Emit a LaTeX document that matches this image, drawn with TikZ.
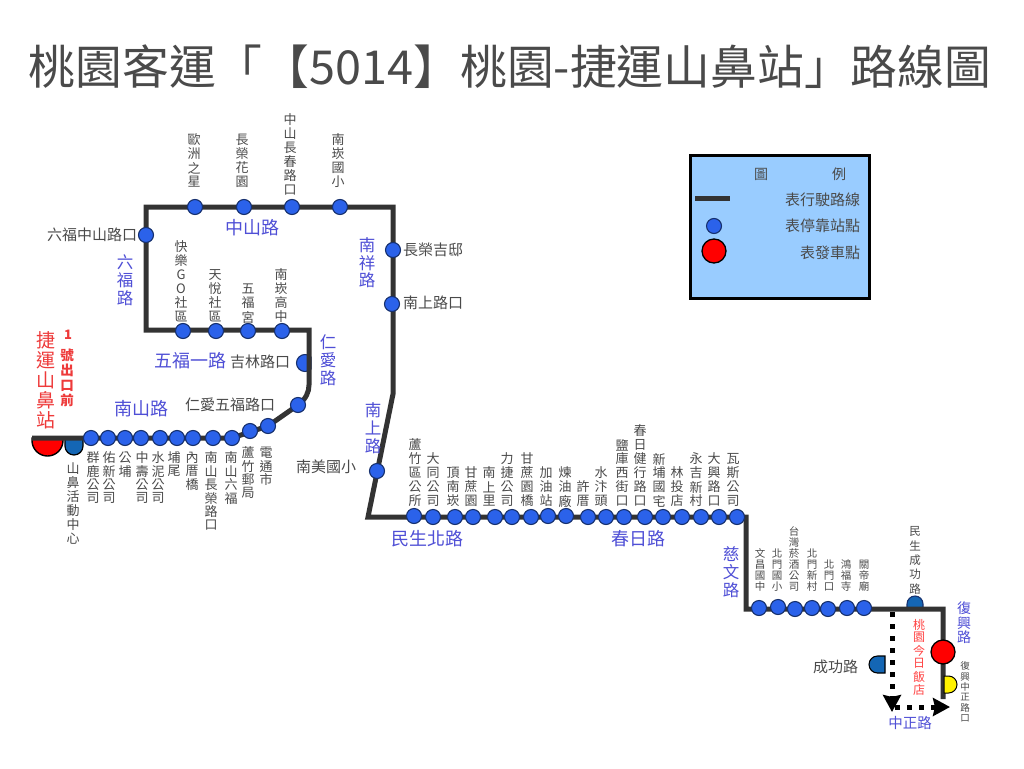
\documentclass[tikz,border=0pt]{standalone}
\usepackage{fontspec}
\usetikzlibrary{arrows.meta}
\setmainfont{Noto Sans CJK TC}
\newdimen\vtpitch
\def\vtloop#1{\ifx#1\relax\else\hbox to 1.1em{\hss\vbox to\vtpitch{\vss\hbox{#1}\vss}\hss}\expandafter\vtloop\fi}
\newcommand\vt[2]{\vtpitch=#1pt\vbox{\offinterlineskip\expandafter\vtloop#2\relax}}
\newcommand\fs[1]{\fontsize{#1pt}{#1pt}\selectfont}
\definecolor{routec}{HTML}{333333}
\definecolor{stopc}{HTML}{2B62EA}
\definecolor{stope}{HTML}{16306E}
\definecolor{roadc}{HTML}{4F4FD6}
\definecolor{textc}{HTML}{4A4A4A}
\definecolor{domec}{HTML}{1466B4}
\definecolor{redc}{HTML}{EE3A3A}
\definecolor{legc}{HTML}{99CCFF}
\tikzset{
 route/.style={draw=routec,line width=5pt,line join=miter},
 stopn/.style={circle,fill=stopc,draw=stope,line width=1.1pt,minimum size=15pt,inner sep=0pt},
 startn/.style={circle,fill=red,draw=black,line width=1.3pt,minimum size=24pt,inner sep=0pt},
 lab/.style={inner sep=0pt,outer sep=0pt,text=textc,font=\fs{15}},
 vlab/.style={inner sep=0pt,outer sep=0pt,text=textc,font=\fs{13}},
 road/.style={inner sep=0pt,outer sep=0pt,text=roadc,font=\fs{18}},
 vroad/.style={road,font=\fs{16.5}},
 redl/.style={inner sep=0pt,outer sep=0pt,text=redc},
 dots/.style={draw=black,line width=5pt,dash pattern=on 5pt off 7pt,-{Stealth[length=17pt,width=18pt,inset=2pt]}}
}
\begin{document}
\begin{tikzpicture}[x=1pt,y=-1pt]
\useasboundingbox (0,0) rectangle (1024,768);
\fill[white] (0,0) rectangle (1024,768);
\node[inner sep=0pt,text=textc,font=\fs{46.8}] (title) at (510,67) {桃園客運「【5014】桃園-捷運山鼻站」路線圖};
% half domes under the route
\fill[red,draw=black,line width=1.4pt] (32,438) -- (32,440.5) arc[start angle=180,end angle=0,radius=15.5] -- (63,438) -- cycle;
\path (47,445) node[inner sep=0pt] (domeA) {};
\fill[domec,draw=black,line width=1.2pt] (65,438) -- (65,446) arc[start angle=180,end angle=0,radius=9] -- (83,438) -- cycle;
\path (74,446) node[inner sep=0pt] (domeB) {};
\fill[domec,draw=stope,line width=1.1pt] (907,609) -- (907,604) arc[start angle=180,end angle=360,radius=8] -- (923,609) -- cycle;
\path (915,604) node[inner sep=0pt] (domeC) {};
\fill[stopc,draw=stope,line width=1.1pt] (311,357) arc[start angle=-45,end angle=-315,radius=8.5] -- cycle;
\path (305,363) node[inner sep=0pt] (domeD) {};
% route corners
\coordinate (a0) at (32,438);
\coordinate (a1) at (232,438);
\coordinate (a2) at (268,426);
\coordinate (a3) at (298,405);
\coordinate (a4) at (309,385);
\coordinate (a5) at (309,330);
\coordinate (a6) at (146,330);
\coordinate (a7) at (146,207);
\coordinate (a8) at (393,207);
\coordinate (a9) at (393,394);
\coordinate (a10) at (368,517);
\coordinate (a11) at (746,517);
\coordinate (a12) at (746,609);
\coordinate (a13) at (943,609);
\coordinate (a14) at (943,699);
\draw[route] (a0) -- (a1) -- (a2) -- (a3) .. controls (306,399) and (309,392) .. (a4) -- (a5) -- (a6) -- (a7) -- (a8) -- (a9) -- (a10) -- (a11) -- (a12) -- (a13) -- (a14);
% stops
\foreach \n/\x/\y in {s1/91/438,s2/108/438,s3/125/438,s4/141/438,s5/160/438,s6/177/438,s7/193/438,s8/213/438,s9/232/438,s10/250/431,s11/268/426,s12/298/405,
 t1/183/331,t2/216/331,t3/248/331,t4/282/331,u1/146/235,v1/195/207,v2/244/207,v3/292/207,v4/340/207,w1/393/250,w2/392/304,w3/377/471,
 m1/414/516,m2/433/517,m3/455/517,m4/473/517,m5/495/517,m6/512/517,m7/531/517,m8/548/516,m9/566/516,m10/588/517,m11/606/517,m12/624/517,m13/645/517,m14/663/517,m15/682/517,m16/701/517,m17/719/517,m18/737/517,
 n1/759/608,n2/778/607,n3/795/609,n4/812/608,n5/828/609,n6/847/608,n7/864/608}
 \node[stopn] (\n) at (\x,\y) {};
\node[startn] (start) at (943,652) {};
\fill[yellow,draw=black,line width=1pt] (944,676) -- (948.5,676) arc[start angle=-90,end angle=90,radius=8.5] -- (944,693) -- cycle;
\path (950,685) node[inner sep=0pt] (domeE) {};
\fill[domec,draw=black,line width=1.1pt] (885,656) -- (877.5,656) arc[start angle=270,end angle=90,radius=8.5] -- (885,673) -- cycle;
\path (877,664) node[inner sep=0pt] (domeF) {};
% dotted diversion
\coordinate (d0) at (892,612);
\coordinate (d1) at (892,712);
\coordinate (d2) at (895,707);
\coordinate (d3) at (950,707);
\draw[dots] (d0) -- (d1);
\draw[dots] (d2) -- (d3);
% vertical labels, below the route
\foreach \n/\x/\y/\t in {b1/93/451/群鹿公司,b2/109/451/佑新公司,b3/125/451/公埔,b4/142/451/中壽公司,b5/158/451/水泥公司,b6/174/451/埔尾,b7/192/451/內厝橋,b8/211/451/南山長榮路口,b9/231/451/南山六福,b10/248/446/蘆竹郵局,b11/266/446/電通市}
 \node[vlab,anchor=north] (\n) at (\x,\y) {\vt{13.5}{\t}};
\node[vlab,anchor=north] (b0) at (73,462) {\vt{14}{山鼻活動中心}};
% vertical labels, above the route
\foreach \n/\x/\y/\t in {c1/194/189/歐洲之星,c2/242/189/長榮花園,c3/290/197/中山長春路口,c4/338/189/南崁國小,
 c5/181/324/快樂GO社區,c6/215/324/天悅社區,c7/248/324/五福宮,c8/281/324/南崁高中,
 e1/415/508/蘆竹區公所,e2/433/508/大同公司,e3/453/508/頂南崁,e4/471/508/甘蔗園,e5/489/508/南上里,e6/507/508/力捷公司,e7/527/508/甘蔗園橋,e8/546/508/加油站,e9/565/508/煉油廠,e10/583/508/許厝,e11/601/508/水汴頭,e12/622/508/鹽庫西街口,e13/640/508/春日健行路口,e14/659/508/新埔國宅,e15/677/508/林投店,e16/696/508/永吉新村,e17/714/508/大興路口,e18/733/508/瓦斯公司}
 \node[vlab,anchor=south] (\n) at (\x,\y) {\vt{14}{\t}};
\foreach \n/\x/\t in {f1/760/文昌國中,f2/777/北門國小,f3/794/台灣菸酒公司,f4/812/北門新村,f5/829/北門口,f6/846/鴻福寺,f7/864/關帝廟}
 \node[vlab,anchor=south,font=\fs{10.5}] (\n) at (\x,592) {\vt{11}{\t}};
\node[vlab,anchor=south,font=\fs{11.5}] (f8) at (915,596) {\vt{14.4}{民生成功路}};
\node[vlab,anchor=north,font=\fs{9.5}] (f9) at (965,661) {\vt{10.4}{復興中正路口}};
% horizontal labels
\node[lab,anchor=east] (h1) at (137,235) {六福中山路口};
\node[lab,anchor=west] (h2) at (403,250) {長榮吉邸};
\node[lab,anchor=west] (h3) at (403,303) {南上路口};
\node[lab,anchor=east] (h4) at (290,362) {吉林路口};
\node[lab,anchor=east] (h5) at (275,405) {仁愛五福路口};
\node[lab,anchor=east] (h6) at (356,467) {南美國小};
\node[lab,anchor=east] (h7) at (858,667) {成功路};
% road names
\node[road] (r1) at (252,228) {中山路};
\node[road] (r2) at (190,361) {五福一路};
\node[road] (r3) at (141,409) {南山路};
\node[road] (r4) at (427,539) {民生北路};
\node[road] (r5) at (638,539) {春日路};
\node[road,font=\fs{14.5}] (r6) at (910,723) {中正路};
\node[vroad] (r7) at (367,263) {\vt{17.5}{南祥路}};
\node[vroad] (r8) at (125,280) {\vt{18}{六福路}};
\node[vroad] (r9) at (328,360) {\vt{18}{仁愛路}};
\node[vroad] (r10) at (373,428) {\vt{18}{南上路}};
\node[vroad] (r11) at (731,572) {\vt{18}{慈文路}};
\node[vroad,font=\fs{14}] (r12) at (964,623) {\vt{14.5}{復興路}};
% red labels
\node[redl,font=\fs{19}] (q1) at (46,380) {\vt{20}{捷運山鼻站}};
\node[redl,font=\fs{13}\bfseries] (q2) at (68,335) {1};
\node[redl,font=\fs{13.5}\bfseries] (q3) at (67,378) {\vt{15.2}{號出口前}};
\node[redl,text=red!65!pink,font=\fs{12}] (q4) at (919,657) {\vt{13}{桃園今日飯店}};
% legend
\node[draw=black,fill=legc,line width=3pt,minimum width=179pt,minimum height=143pt,inner sep=0pt] (leg) at (779.5,226.5) {};
\node[lab,font=\fs{14}] (lg1) at (761,174) {圖};
\node[lab,font=\fs{14}] (lg2) at (839,174) {例};
\coordinate (ll0) at (695,198);
\coordinate (ll1) at (730,198);
\draw[route] (ll0) -- (ll1);
\node[stopn] (lg3) at (714,226) {};
\node[startn] (lg4) at (714,251) {};
\node[lab,anchor=east] (lg5) at (860,200) {表行駛路線};
\node[lab,anchor=east] (lg6) at (860,226) {表停靠站點};
\node[lab,anchor=east] (lg7) at (860,253) {表發車點};
\end{tikzpicture}
\end{document}
